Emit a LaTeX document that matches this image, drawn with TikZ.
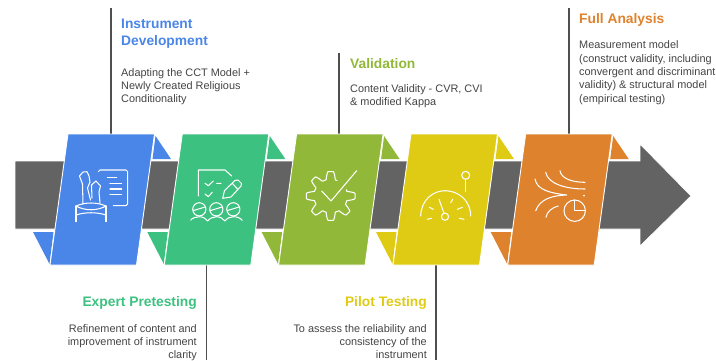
\documentclass[tikz,border=0pt]{standalone}
\usepackage{fontspec}
\setmainfont{Liberation Sans}
\definecolor{cblue}{HTML}{4A86E8}
\definecolor{cgreen}{HTML}{3CC180}
\definecolor{clime}{HTML}{92B83A}
\definecolor{cyellow}{HTML}{DFCB14}
\definecolor{corange}{HTML}{DE822D}
\definecolor{cgray}{HTML}{636363}
\definecolor{ctext}{HTML}{444444}
\tikzset{
 x=1pt,y=-1pt,
 band/.style={fill=cgray,draw=white,line width=0.7pt},
 panel/.style={draw=white,line width=0.9pt,line join=round},
 leader/.style={draw=cgray!80!black,line width=1.5pt},
 icon/.style={draw=white,line width=1.05pt,fill=none,line cap=round,line join=round},
 head/.style={font=\fontsize{13.8}{17}\selectfont\bfseries,anchor=north west,inner sep=0pt,align=left},
 body/.style={font=\fontsize{10.9}{13.4}\selectfont,text=ctext,anchor=north west,inner sep=0pt,align=left},
 headr/.style={head,anchor=north east,align=right},
 bodyr/.style={body,anchor=north east,align=right},
}
\newcommand{\fold}[2]{% x offset, colour
 \begin{scope}[shift={(#1,0)}]
  \fill[#2] (155.5,136) -- (171,159) -- (152.5,159) -- cycle;
  \fill[#2] (33,232) -- (53.5,232) -- (49.5,264) -- cycle;
 \end{scope}}
\newcommand{\pan}[2]{% x offset, colour
 \draw[panel,fill=#2] (68+#1,134) -- (154.5+#1,134) -- (136.5+#1,265) -- (50+#1,265) -- cycle;}
\begin{document}
\begin{tikzpicture}
\useasboundingbox (0,0) rectangle (716,360);
\coordinate (tA) at (111,134); \coordinate (tA2) at (111,8);
\coordinate (tB) at (206.7,265); \coordinate (tB2) at (206.7,360);
\coordinate (tC) at (339,134); \coordinate (tC2) at (339,53);
\coordinate (tD) at (436,265); \coordinate (tD2) at (436,360);
\coordinate (tE) at (569,134); \coordinate (tE2) at (569,8);
\draw[leader] (tA2) -- (tA);
\draw[leader] (tB) -- (tB2);
\draw[leader] (tC2) -- (tC);
\draw[leader] (tD) -- (tD2);
\draw[leader] (tE2) -- (tE);
% arrow
\draw[band] (15,161) -- (640,161) -- (640,144) -- (691,196) -- (640,246) -- (640,229) -- (15,229) -- cycle;
\fold{0}{cblue}\fold{114.3}{cgreen}\fold{228.6}{clime}\fold{343}{cyellow}\fold{457.7}{corange}
\pan{0}{cblue}\pan{114.3}{cgreen}\pan{228.6}{clime}\pan{343}{cyellow}\pan{457.7}{corange}
% icon blue
\draw[icon] (98.3,171.7) -- (100,170) -- (126,170) -- (127.7,171.7) -- (127.7,204) -- (126,205.7) -- (113.3,205.7);
\draw[icon] (107.3,177.3) -- (116.7,177.3) (110,183.3) -- (121.7,183.3) (110,189) -- (121.7,189) (110,194.7) -- (121.7,194.7);
\draw[icon] (82.5,184) -- (79.5,176) -- (83,172) -- (87,171.7) -- (89,176) -- (90,182) -- (87.5,188) -- (90.5,200);
\draw[icon] (82.5,184) -- (83,204);
\draw[icon] (91.5,185) -- (96,181) -- (100.5,186) -- (99,192) -- (100,203);
\draw[icon] (91.5,185) -- (92,198);
\draw[icon] (76,206) .. controls (85,211) and (97,211) .. (106,206);
\draw[icon] (76,206) .. controls (85,202) and (97,202) .. (106,206);
\draw[icon] (76,206) -- (76,221.7) (106,206) -- (106,221.7);
\draw[icon] (76,215) .. controls (85,212) and (97,212) .. (106,215);
% icon green
\draw[icon] (198.3,196) -- (198.3,170) -- (225,170) -- (231.7,176);
\draw[icon] (205,183.3) -- (208.3,185.7) -- (213.3,181) (205,194) -- (208.3,196.7) -- (212.3,192.3) (216.7,183.3) -- (221,183.3);
\draw[icon] (235,180.5) -- (238,180) -- (241.5,183.5) -- (241,186) -- (231,197) -- (222.7,198.3) -- (224.5,190.5) -- cycle (232.5,183.5) -- (238,189.5);
\foreach \cx in {199.3,216.3,233.3}{
 \draw[icon] (\cx,209.3) circle (6.6);
 \draw[icon] (\cx-5.8,210.5) -- (\cx+5.8,207);
}
\draw[icon] (190.7,220.3) .. controls (192,218) and (196,216.7) .. (199.3,216.7) .. controls (203,216.7) and (206,218.5) .. (207.7,221) .. controls (209.5,218.5) and (213,216.7) .. (216.3,216.7) .. controls (220,216.7) and (223,218.5) .. (225,221) .. controls (226.5,218.5) and (230,216.7) .. (233.3,216.7) .. controls (237,216.7) and (240.5,218) .. (242.3,220.3);
% icon lime
\draw[icon] plot[domain=68:382,samples=220] ({330.7+(20.6+3.8*max(-1,min(1,1.7*cos(8*\x))))*cos(\x)},{196-(20.6+3.8*max(-1,min(1,1.7*cos(8*\x))))*sin(\x)});
\draw[icon] (321.7,191) -- (331,201) -- (356.7,170.7);
% icon yellow
\draw[icon] (420.7,216) .. controls (421,200) and (433,190.7) .. (445,190.7) .. controls (458,190.7) and (470.5,200) .. (470.7,216);
\draw[icon] (445,216.7) circle (3.6);
\draw[icon] (444,213.3) -- (439,199.3);
\draw[icon] (465.7,191.7) -- (465.7,179.3);
\draw[icon] (465.7,175.3) circle (4);
\draw[icon] (429.3,207.3) -- (433.3,209.3) (452.7,199.3) -- (450.7,202.7) (462.3,207.3) -- (457.3,209.3) (427.3,219.3) -- (431.7,218.3) (459.3,218.3) -- (464,219.3);
% icon orange
\draw[icon] (535,179) .. controls (537,190) and (550,193) .. (566.7,195) .. controls (552,195.5) and (540,199) .. (535.7,210.7);
\draw[icon] (545.7,172.3) .. controls (548,184) and (566,189) .. (585,189);
\draw[icon] (560,170.7) .. controls (561,178) and (571,182.3) .. (585,182.3);
\draw[icon] (546,217.3) .. controls (547,212) and (551,208) .. (558.3,206);
\draw[icon] (574.7,210.7) circle (10.7);
\draw[icon] (574.7,200) -- (574.7,210.7) -- (585.4,210.7);
\fill[white] (584,195.7) circle (1);
% text
\node[head,text=cblue] (h1) at (121,18.5) {Instrument\\Development};
\node[body] (b1) at (121,68) {Adapting the CCT Model +\\Newly Created Religious\\Conditionality};
\node[headr,text=cgreen] (h2) at (197,296) {Expert Pretesting};
\node[bodyr] (b2) at (197,324) {Refinement of content and\\improvement of instrument\\clarity};
\node[head,text=clime] (h3) at (350,58.5) {Validation};
\node[body] (b3) at (350,84) {Content Validity - CVR, CVI\\\& modified Kappa};
\node[headr,text=cyellow] (h4) at (427,296) {Pilot Testing};
\node[bodyr] (b4) at (427,324) {To assess the reliability and\\consistency of the\\instrument};
\node[head,text=corange] (h5) at (579,13) {Full Analysis};
\node[body] (b5) at (579,40.5) {Measurement model\\(construct validity, including\\convergent and discriminant\\validity) \& structural model\\(empirical testing)};
\end{tikzpicture}
\end{document}
